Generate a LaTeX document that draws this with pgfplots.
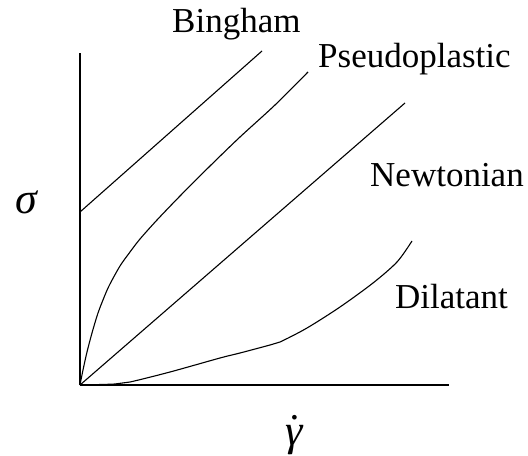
\documentclass[border=0pt]{standalone}
\usepackage{pgfplots}
\pgfplotsset{compat=1.18}
\usepackage{fontspec}
\setmainfont{Liberation Serif}

\begin{document}
\begin{tikzpicture}
\useasboundingbox (-80bp,-71bp) rectangle (448bp,385bp);
\begin{axis}[
  at={(0,0)}, anchor=south west,
  scale only axis,
  width=369bp, height=332bp,
  xmin=0, xmax=369, ymin=0, ymax=332,
  axis lines=left,
  axis line style={-, line width=1.6bp, black},
  xtick=\empty, ytick=\empty,
  clip=false,
]
% Bingham plastic: yield stress, then linear
\addplot[black, line width=1.1bp] coordinates {(0,173) (182,334)};
% Pseudoplastic (shear thinning)
\addplot[black, line width=1.1bp, smooth] coordinates {
  (0,0) (3,15) (7,33) (12,52) (18,72) (25,90) (30,101) (40,119) (50,133)
  (60,146) (77,165) (100,189) (130,219) (160,248) (195,280) (228,313)};
% Newtonian
\addplot[black, line width=1.1bp] coordinates {(0,0) (325,282)};
% Dilatant (shear thickening)
\addplot[black, line width=1.1bp, smooth] coordinates {
  (0,0) (35,1) (50,3) (90,13) (140,27) (160,32) (190,40) (200,43)
  (227,57) (260,78) (293,102) (317,123) (332,144)};

\begin{scope}[every node/.style={inner sep=0pt, font=\fontsize{35bp}{40bp}\selectfont}]
\node[anchor=base west] at (axis cs:92,352) {Bingham};
\node[anchor=base west] at (axis cs:238,317) {Pseudoplastic};
\node[anchor=base west] at (axis cs:290,198) {Newtonian};
\node[anchor=base west] at (axis cs:315,77) {Dilatant};
\end{scope}
\node[inner sep=0pt, font=\fontsize{44bp}{48bp}\selectfont] at (axis cs:-53,183) {\textit{σ}};
\node[inner sep=0pt, font=\fontsize{44bp}{48bp}\selectfont] at (axis cs:215,-50)
  {\textit{γ}\llap{\raisebox{0.02em}{˙}\kern0.05em}};
\end{axis}
\end{tikzpicture}
\end{document}
